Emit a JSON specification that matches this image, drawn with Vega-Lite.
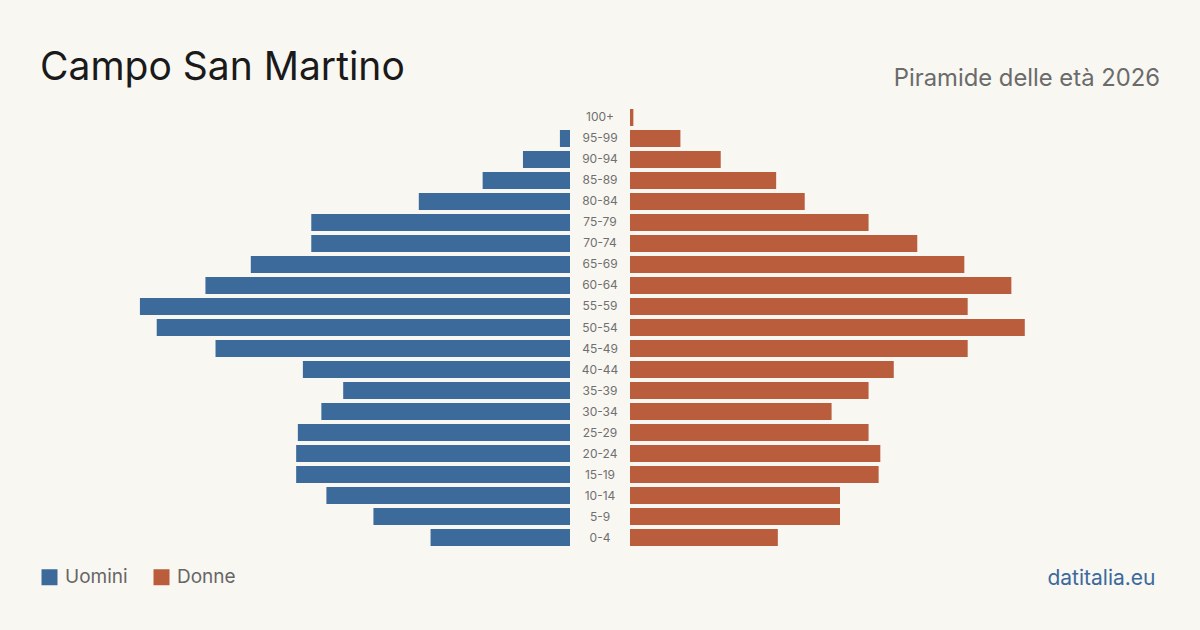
{
  "$schema": "https://vega.github.io/schema/vega-lite/v6.json",
  "background": "#f9f7f2",
  "padding": {"left": 40, "right": 40, "top": 48, "bottom": 42},
  "config": {"view": {"stroke": null}, "font": "Inter"},
  "bounds": "flush",
  "spacing": 0,
  "resolve": {"scale": {"x": "independent", "y": "shared", "color": "shared"}},
  "data": {"values": [
    {"eta": "100+", "sesso": "Uomini", "pop": 0}, {"eta": "100+", "sesso": "Donne", "pop": 2},
    {"eta": "95-99", "sesso": "Uomini", "pop": 6}, {"eta": "95-99", "sesso": "Donne", "pop": 30},
    {"eta": "90-94", "sesso": "Uomini", "pop": 28}, {"eta": "90-94", "sesso": "Donne", "pop": 54},
    {"eta": "85-89", "sesso": "Uomini", "pop": 52}, {"eta": "85-89", "sesso": "Donne", "pop": 87},
    {"eta": "80-84", "sesso": "Uomini", "pop": 90}, {"eta": "80-84", "sesso": "Donne", "pop": 104},
    {"eta": "75-79", "sesso": "Uomini", "pop": 154}, {"eta": "75-79", "sesso": "Donne", "pop": 142},
    {"eta": "70-74", "sesso": "Uomini", "pop": 154}, {"eta": "70-74", "sesso": "Donne", "pop": 171},
    {"eta": "65-69", "sesso": "Uomini", "pop": 190}, {"eta": "65-69", "sesso": "Donne", "pop": 199},
    {"eta": "60-64", "sesso": "Uomini", "pop": 217}, {"eta": "60-64", "sesso": "Donne", "pop": 227},
    {"eta": "55-59", "sesso": "Uomini", "pop": 256}, {"eta": "55-59", "sesso": "Donne", "pop": 201},
    {"eta": "50-54", "sesso": "Uomini", "pop": 246}, {"eta": "50-54", "sesso": "Donne", "pop": 235},
    {"eta": "45-49", "sesso": "Uomini", "pop": 211}, {"eta": "45-49", "sesso": "Donne", "pop": 201},
    {"eta": "40-44", "sesso": "Uomini", "pop": 159}, {"eta": "40-44", "sesso": "Donne", "pop": 157},
    {"eta": "35-39", "sesso": "Uomini", "pop": 135}, {"eta": "35-39", "sesso": "Donne", "pop": 142},
    {"eta": "30-34", "sesso": "Uomini", "pop": 148}, {"eta": "30-34", "sesso": "Donne", "pop": 120},
    {"eta": "25-29", "sesso": "Uomini", "pop": 162}, {"eta": "25-29", "sesso": "Donne", "pop": 142},
    {"eta": "20-24", "sesso": "Uomini", "pop": 163}, {"eta": "20-24", "sesso": "Donne", "pop": 149},
    {"eta": "15-19", "sesso": "Uomini", "pop": 163}, {"eta": "15-19", "sesso": "Donne", "pop": 148},
    {"eta": "10-14", "sesso": "Uomini", "pop": 145}, {"eta": "10-14", "sesso": "Donne", "pop": 125},
    {"eta": "5-9", "sesso": "Uomini", "pop": 117}, {"eta": "5-9", "sesso": "Donne", "pop": 125},
    {"eta": "0-4", "sesso": "Uomini", "pop": 83}, {"eta": "0-4", "sesso": "Donne", "pop": 88}
  ]},
  "hconcat": [
    {
      "width": 530,
      "height": 441,
      "title": {"text": "Campo San Martino", "anchor": "start", "frame": "group", "fontSize": 39, "fontWeight": "normal", "color": "#1a1a1a", "font": "Inter", "baseline": "alphabetic", "offset": -11.5},
      "transform": [{"filter": "datum.sesso === 'Uomini'"}],
      "mark": {"type": "bar"},
      "encoding": {
        "y": {"field": "eta", "type": "nominal", "sort": ["100+","95-99","90-94","85-89","80-84","75-79","70-74","65-69","60-64","55-59","50-54","45-49","40-44","35-39","30-34","25-29","20-24","15-19","10-14","5-9","0-4"], "axis": null, "scale": {"paddingInner": 0.1905, "paddingOuter": 0.0952}},
        "x": {"field": "pop", "type": "quantitative", "scale": {"domain": [0, 315.476], "reverse": true, "nice": false}, "axis": null},
        "color": {"field": "sesso", "type": "nominal", "scale": {"domain": ["Uomini", "Donne"], "range": ["#3b6a9b", "#b95d3d"]},
          "legend": {"title": null, "orient": "none", "legendX": 0, "legendY": 460.5, "direction": "horizontal", "symbolType": "square", "symbolSize": 256, "symbolStrokeWidth": 0, "labelFontSize": 19, "labelFont": "Inter", "labelColor": "#666666", "labelOffset": 6, "columnPadding": 24, "padding": 0, "symbolOffset": 0}}
      }
    },
    {
      "width": 60,
      "height": 441,
      "transform": [{"filter": "datum.sesso === 'Uomini'"}],
      "mark": {"type": "text", "fontSize": 12, "color": "#707070", "font": "Inter", "align": "center", "baseline": "middle"},
      "encoding": {
        "y": {"field": "eta", "type": "nominal", "sort": ["100+","95-99","90-94","85-89","80-84","75-79","70-74","65-69","60-64","55-59","50-54","45-49","40-44","35-39","30-34","25-29","20-24","15-19","10-14","5-9","0-4"], "axis": null},
        "text": {"field": "eta", "type": "nominal"}
      }
    },
    {
      "width": 530,
      "height": 441,
      "title": {"text": "Piramide delle età 2026", "anchor": "end", "frame": "group", "fontSize": 23.8, "fontWeight": "normal", "color": "#6b6b6b", "font": "Inter", "baseline": "alphabetic", "offset": -2.5},
      "transform": [{"filter": "datum.sesso === 'Donne'"}],
      "mark": {"type": "bar"},
      "encoding": {
        "y": {"field": "eta", "type": "nominal", "sort": ["100+","95-99","90-94","85-89","80-84","75-79","70-74","65-69","60-64","55-59","50-54","45-49","40-44","35-39","30-34","25-29","20-24","15-19","10-14","5-9","0-4"], "axis": null},
        "x": {"field": "pop", "type": "quantitative", "scale": {"domain": [0, 315.476], "nice": false},
          "axis": {"title": "datitalia.eu", "titleAnchor": "end", "titleAlign": "right", "titleX": 525, "titleColor": "#3b6a9b", "titleFontSize": 21, "titleFont": "Inter", "titleFontWeight": "normal", "titleBaseline": "alphabetic", "titlePadding": 36, "labels": false, "ticks": false, "domain": false, "grid": false}},
        "color": {"field": "sesso", "type": "nominal"}
      }
    }
  ]
}
